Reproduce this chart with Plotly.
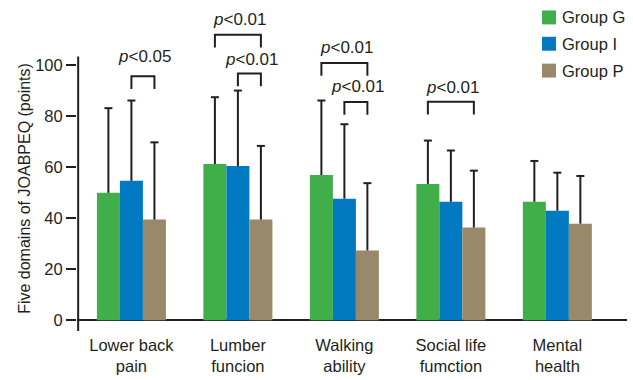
import plotly.graph_objects as go

# ---- data -------------------------------------------------------------
categories = ["Lower back<br>pain", "Lumber<br>funcion", "Walking<br>ability",
              "Social life<br>fumction", "Mental<br>health"]
group_names = ["Group G", "Group I", "Group P"]

group_g_mean = [50.0, 61.3, 57.0, 53.5, 46.5]
group_g_sd = [33.2, 26.2, 29.2, 17.0, 16.0]
group_i_mean = [54.7, 60.5, 47.7, 46.5, 43.0]
group_i_sd = [31.5, 29.6, 29.2, 20.1, 14.9]
group_p_mean = [39.5, 39.5, 27.4, 36.4, 37.9]
group_p_sd = [30.3, 28.9, 26.4, 22.3, 18.7]

y_ticks = [0, 20, 40, 60, 80, 100]

# significant pairwise comparisons: (domain index, group a, group b, label)
comparisons = [
    (0, 1, 2, "<i>p</i>&lt;0.05"),
    (1, 0, 2, "<i>p</i>&lt;0.01"),
    (1, 1, 2, "<i>p</i>&lt;0.01"),
    (2, 0, 2, "<i>p</i>&lt;0.01"),
    (2, 1, 2, "<i>p</i>&lt;0.01"),
    (3, 0, 2, "<i>p</i>&lt;0.01"),
]

# ---- layout settings ---------------------------------------------------
W, H = 633, 380
M_L, M_R, M_T, M_B = 77, 6, 5, 47
colors = ["#40ae49", "#0079c1", "#98896a"]
ink = "#231f20"
FONT = "Liberation Sans Narrow, Arial Narrow, Liberation Sans, Arial, sans-serif"
BARGAP = 0.352
X_RANGE = [-0.511, 4.654]
Y_RANGE = [-4.17, 123.65]
bar_w = (1 - BARGAP) / 3

# bracket heights and label heights (axis units), one per comparison
bracket_levels = [95.7, 112.0, 96.8, 100.9, 85.6, 85.7]
leg_drop = 5.0
label_levels = [103.5, 117.8, 102.2, 106.8, 91.8, 91.2]

plot_w = W - M_L - M_R
plot_h = H - M_T - M_B
x_per_px = (X_RANGE[1] - X_RANGE[0]) / plot_w
cap_half = 4 * x_per_px


def px_x(px):
    return (px - M_L) / plot_w


def px_y(py):
    return (H - M_B - py) / plot_h


means = [group_g_mean, group_i_mean, group_p_mean]
sds = [group_g_sd, group_i_sd, group_p_sd]
x_pos = list(range(len(categories)))

fig = go.Figure()
for name, m, c in zip(group_names, means, colors):
    fig.add_trace(go.Bar(
        x=x_pos, y=m, name=name,
        marker=dict(color=c, line=dict(width=0)),
        showlegend=False,
    ))

# one-sided (upper) SD whiskers drawn over the bars
for j, (m, s) in enumerate(zip(means, sds)):
    ex, ey = [], []
    for i, (mv, sv) in enumerate(zip(m, s)):
        xc = i + (j - 1) * bar_w
        top = mv + sv
        ex += [xc, xc, None, xc - cap_half, xc + cap_half, None]
        ey += [mv, top, None, top, top, None]
    fig.add_trace(go.Scatter(
        x=ex, y=ey, mode="lines", line=dict(color=ink, width=2),
        hoverinfo="skip", showlegend=False,
    ))

shapes = []
annotations = []

# left axis line, stopping just above the 100 tick
shapes.append(dict(type="line", xref="x", yref="y",
                   x0=-0.5, x1=-0.5, y0=Y_RANGE[0], y1=103.5,
                   line=dict(color=ink, width=2)))

# significance brackets
for (dom, a, b, label), lvl, ly in zip(comparisons, bracket_levels, label_levels):
    xa = dom + (a - 1) * bar_w
    xb = dom + (b - 1) * bar_w
    shapes.append(dict(
        type="path", xref="x", yref="y",
        path=f"M {xa},{lvl - leg_drop} L {xa},{lvl} L {xb},{lvl} L {xb},{lvl - leg_drop}",
        line=dict(color=ink, width=2)))
    annotations.append(dict(
        x=(xa + xb) / 2, y=ly, xref="x", yref="y", text=label,
        showarrow=False, xanchor="center", yanchor="middle", xshift=2,
        font=dict(family=FONT, size=17, color=ink)))

# legend
leg_rows = [17.5, 44.0, 71.0]
for name, c, yc in zip(group_names, colors, leg_rows):
    shapes.append(dict(type="rect", xref="paper", yref="paper",
                       x0=px_x(542), x1=px_x(556),
                       y0=px_y(yc + 7), y1=px_y(yc - 7),
                       fillcolor=c, line=dict(width=0)))
    annotations.append(dict(
        x=px_x(560), y=px_y(yc), xref="paper", yref="paper", text=name,
        showarrow=False, xanchor="left", yanchor="middle",
        font=dict(family=FONT, size=16.5, color=ink)))

# y-axis title
annotations.append(dict(
    x=px_x(25), y=px_y(190), xref="paper", yref="paper",
    text="Five domains of JOABPEQ (points)", textangle=-90,
    showarrow=False, xanchor="center", yanchor="middle",
    font=dict(family=FONT, size=16, color=ink)))

fig.update_layout(
    width=W, height=H,
    margin=dict(l=M_L, r=M_R, t=M_T, b=M_B),
    paper_bgcolor="white", plot_bgcolor="white",
    barmode="group", bargap=BARGAP, bargroupgap=0,
    font=dict(family=FONT, color=ink),
    shapes=shapes, annotations=annotations,
    xaxis=dict(range=X_RANGE, tickvals=x_pos, ticktext=categories,
               showgrid=False, showline=False, ticks="", zeroline=False,
               ticklabelstandoff=2,
               tickfont=dict(family=FONT, size=16.5, color=ink)),
    yaxis=dict(range=Y_RANGE, tickvals=y_ticks, showgrid=False,
               showline=False, ticks="outside", ticklen=10, tickwidth=2,
               tickcolor=ink, zeroline=True, zerolinecolor=ink,
               zerolinewidth=2,
               tickfont=dict(family=FONT, size=16.5, color=ink)),
)

fig.write_html("out.html")
